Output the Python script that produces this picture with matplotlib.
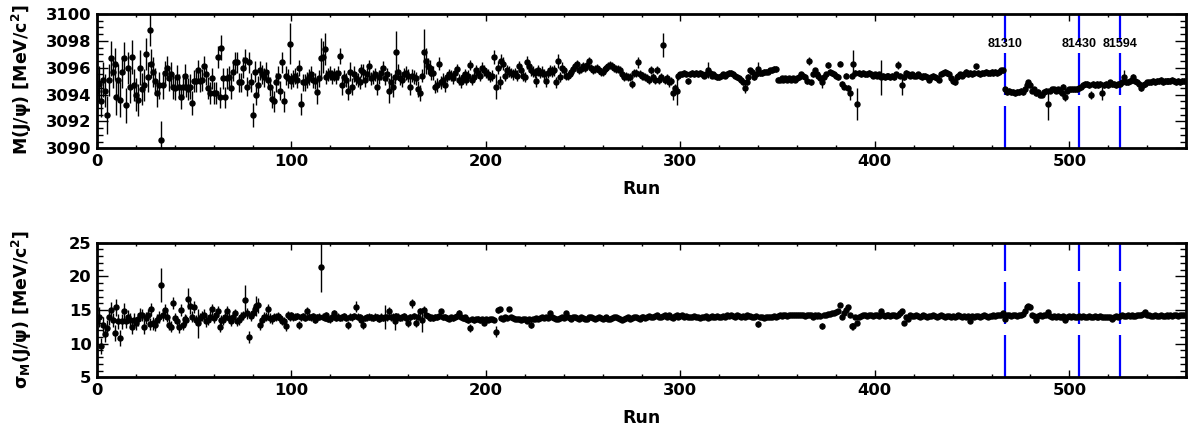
import numpy as np
import matplotlib
matplotlib.use("Agg")
import matplotlib.pyplot as plt

# J/psi mass peak position per run
mass = [
    3094.3, 3094.8, 3093.5, 3095.1, 3094.3, 3092.5, 3095.1, 3096.7, 3095.7, 3096.3, 3093.8, 3095.1, 3093.6, 3095.7, 3096.7, 3093.2, 3096.0, 3094.6, 3096.8, 3094.7,
    3094.0, 3093.6, 3096.0, 3094.4, 3094.7, 3097.0, 3095.3, 3098.8, 3096.3, 3095.7, 3095.0, 3094.1, 3094.7, 3090.6, 3094.7, 3095.6, 3096.0, 3095.2, 3095.5, 3094.6,
    3094.5, 3095.3, 3094.6, 3093.8, 3094.6, 3095.4, 3094.6, 3094.4, 3094.6, 3093.4, 3095.0, 3095.0, 3095.8, 3095.0, 3095.1, 3096.1, 3095.5, 3094.5, 3094.1, 3095.2,
    3094.1, 3094.1, 3096.8, 3093.8, 3097.5, 3095.2, 3093.8, 3095.2, 3095.3, 3094.5, 3095.7, 3096.4, 3096.4, 3094.9, 3094.9, 3096.0, 3096.6, 3094.6, 3096.4, 3094.9,
    3092.5, 3095.7, 3094.0, 3094.7, 3095.8, 3095.5, 3095.3, 3095.7, 3095.1, 3094.6, 3093.7, 3093.5, 3094.9, 3095.4, 3094.3, 3096.4, 3093.5, 3095.4, 3095.2, 3097.8,
    3095.0, 3095.2, 3095.4, 3095.1, 3096.0, 3093.3, 3094.9, 3094.9, 3095.1, 3095.3, 3095.5, 3095.1, 3095.0, 3094.2, 3095.2, 3096.7, 3096.8, 3097.4, 3095.3, 3095.5,
    3095.6, 3095.3, 3095.5, 3095.3, 3095.6, 3096.9, 3094.7, 3095.3, 3095.1, 3094.3, 3095.7, 3094.6, 3095.5, 3095.2, 3095.1, 3094.9, 3095.8, 3095.7, 3095.1, 3095.5,
    3096.1, 3095.2, 3095.3, 3095.5, 3094.6, 3095.3, 3095.6, 3096.0, 3095.2, 3095.5, 3094.3, 3094.9, 3094.6, 3095.3, 3097.2, 3095.7, 3095.2, 3095.1, 3095.5, 3095.6,
    3095.4, 3094.6, 3095.4, 3095.3, 3095.2, 3094.4, 3094.1, 3095.4, 3097.2, 3096.5, 3096.1, 3096.0, 3095.6, 3095.6, 3094.6, 3094.7, 3096.3, 3094.9, 3095.1, 3094.7,
    3095.3, 3095.5, 3095.4, 3095.2, 3095.6, 3095.9, 3095.1, 3094.9, 3095.3, 3095.5, 3095.1, 3095.4, 3096.2, 3095.1, 3095.3, 3095.8, 3095.6, 3095.4, 3096.0, 3095.8,
    3095.6, 3095.5, 3095.3, 3095.4, 3096.8, 3094.6, 3096.0, 3094.9, 3096.5, 3096.3, 3095.4, 3095.8, 3095.7, 3095.6, 3095.5, 3095.6, 3095.4, 3096.1, 3095.8, 3095.4,
    3095.3, 3096.4, 3096.1, 3095.8, 3095.7, 3095.6, 3095.0, 3095.8, 3095.6, 3095.7, 3095.5, 3095.0, 3095.6, 3095.8, 3095.7, 3095.8, 3094.9, 3096.5, 3095.3, 3096.0,
    3095.8, 3095.4, 3095.4, 3095.5, 3095.7, 3095.9, 3096.1, 3096.3, 3095.8, 3095.9, 3096.1, 3096.0, 3096.2, 3096.5, 3096.0, 3095.8, 3095.9, 3096.0, 3095.8, 3095.7,
    3095.7, 3095.9, 3096.0, 3096.1, 3096.2, 3096.1, 3096.0, 3095.9, 3095.9, 3095.8, 3095.5, 3095.3, 3095.4, 3095.3, 3095.3, 3094.8, 3095.6, 3095.6, 3096.4, 3095.5,
    3095.4, 3095.4, 3095.3, 3095.2, 3095.1, 3095.8, 3095.3, 3095.1, 3095.8, 3095.1, 3095.3, 3097.7, 3095.1, 3095.2, 3094.9, 3095.0, 3094.1, 3094.5, 3094.3, 3095.4,
    3095.5, 3095.5, 3095.6, 3095.5, 3095.0, 3095.5, 3095.6, 3095.5, 3095.6, 3095.5, 3095.6, 3095.5, 3095.4, 3095.5, 3095.8, 3095.6, 3095.4, 3095.5, 3095.4, 3095.3,
    3095.3, 3095.4, 3095.5, 3095.4, 3095.5, 3095.6, 3095.6, 3095.5, 3095.4, 3095.3, 3095.2, 3095.1, 3094.9, 3094.5, 3094.9, 3095.3, 3095.8, 3095.7, 3095.3, 3095.5,
    3095.9, 3095.6, 3095.6, 3095.7, 3095.7, 3095.7, 3095.8, 3095.8, 3095.9, 3095.9, 3095.1, 3095.1, 3095.2, 3095.1, 3095.2, 3095.1, 3095.2, 3095.1, 3095.2, 3095.1,
    3095.2, 3095.3, 3095.5, 3095.4, 3095.3, 3095.0, 3096.5, 3094.9, 3095.5, 3095.8, 3095.5, 3095.4, 3095.2, 3094.9, 3095.3, 3095.5, 3096.2, 3095.7, 3095.6, 3095.5,
    3095.4, 3095.3, 3096.3, 3094.8, 3094.6, 3095.4, 3094.5, 3094.1, 3095.4, 3096.3, 3095.6, 3093.3, 3095.6, 3095.5, 3095.6, 3095.5, 3095.5, 3095.6, 3095.5, 3095.4,
    3095.5, 3095.4, 3095.5, 3095.3, 3095.4, 3095.3, 3095.4, 3095.4, 3095.3, 3095.4, 3095.3, 3095.5, 3096.2, 3095.4, 3094.7, 3095.3, 3095.6, 3095.5, 3095.4, 3095.5,
    3095.4, 3095.4, 3095.5, 3095.4, 3095.3, 3095.4, 3095.4, 3095.3, 3095.1, 3095.3, 3095.4, 3095.3, 3095.2, 3095.1, 3095.5, 3095.6, 3095.7, 3095.6, 3095.5, 3095.2,
    3095.0, 3094.9, 3095.3, 3095.4, 3095.5, 3095.4, 3095.5, 3095.7, 3095.5, 3095.6, 3095.5, 3095.6, 3096.1, 3095.6, 3095.5, 3095.6, 3095.6, 3095.7, 3095.6, 3095.6,
    3095.7, 3095.6, 3095.7, 3095.6, 3095.7, 3095.8, 3095.8, 3094.4, 3094.2, 3094.3, 3094.2, 3094.2, 3094.1, 3094.2, 3094.2, 3094.3, 3094.2, 3094.4, 3094.7, 3094.9,
    3094.7, 3094.3, 3094.4, 3094.1, 3094.2, 3094.0, 3094.0, 3094.2, 3094.3, 3093.3, 3094.3, 3094.4, 3094.4, 3094.3, 3094.4, 3094.3, 3094.1, 3094.6, 3093.8, 3094.3,
    3094.4, 3094.4, 3094.4, 3094.4, 3094.4, 3094.5, 3094.6, 3094.7, 3094.8, 3094.8, 3094.7, 3094.0, 3094.8, 3094.7, 3094.8, 3094.7, 3094.8, 3094.1, 3094.7, 3094.8,
    3094.7, 3094.9, 3094.8, 3094.8, 3094.7, 3094.8, 3094.8, 3094.9, 3095.3, 3094.9, 3094.9, 3095.0, 3095.1, 3095.3, 3095.0, 3094.9, 3094.8, 3094.5, 3094.7, 3094.8,
    3094.9, 3094.9, 3094.9, 3095.0, 3094.9, 3095.0, 3095.0, 3095.1, 3094.9, 3095.0, 3095.0, 3095.0, 3095.0, 3095.1, 3095.0, 3094.9, 3095.0, 3094.9, 3095.0, 3095.0,
]

mass_err = [
    1.2, 1.3, 1.2, 1.3, 1.2, 1.4, 1.2, 1.3, 1.2, 1.2, 1.3, 1.2, 1.3, 1.2, 1.2, 1.3, 1.2, 1.2, 1.3, 1.2,
    1.2, 1.2, 1.3, 1.2, 1.2, 1.2, 1.1, 1.2, 1.1, 1.1, 1.0, 1.0, 1.0, 1.4, 1.0, 0.9, 0.9, 0.9, 0.9, 0.9,
    0.9, 0.9, 0.9, 0.9, 0.9, 0.9, 0.8, 0.8, 0.9, 0.9, 0.8, 0.8, 0.8, 0.8, 0.8, 0.8, 0.8, 0.8, 0.8, 0.8,
    0.8, 0.8, 0.8, 0.8, 0.9, 0.8, 0.8, 0.8, 0.8, 0.8, 0.7, 0.8, 0.8, 0.7, 0.7, 0.8, 0.8, 0.7, 0.8, 0.7,
    0.9, 0.8, 0.8, 0.7, 0.7, 0.7, 0.7, 0.7, 0.7, 0.7, 0.7, 0.8, 0.7, 0.7, 0.7, 0.8, 0.8, 0.7, 0.7, 1.5,
    0.6, 0.6, 0.6, 0.6, 0.6, 0.8, 0.6, 0.6, 0.6, 0.6, 0.6, 0.6, 0.6, 0.9, 0.6, 1.5, 1.2, 1.2, 0.5, 0.5,
    0.5, 0.5, 0.5, 0.5, 0.5, 0.6, 0.7, 0.5, 0.5, 0.7, 0.7, 0.6, 0.6, 0.5, 0.5, 0.5, 0.5, 0.6, 0.5, 0.5,
    0.5, 0.5, 0.5, 0.5, 0.6, 0.5, 0.5, 0.5, 0.5, 0.5, 0.9, 0.7, 0.8, 0.5, 1.5, 0.6, 0.5, 0.5, 0.5, 0.5,
    0.5, 0.6, 0.5, 0.5, 0.5, 0.6, 0.6, 0.5, 1.7, 1.0, 0.6, 0.6, 0.5, 0.5, 0.5, 0.5, 0.5, 0.5, 0.5, 0.5,
    0.4, 0.4, 0.4, 0.4, 0.4, 0.4, 0.4, 0.4, 0.4, 0.4, 0.4, 0.4, 0.4, 0.4, 0.4, 0.4, 0.4, 0.4, 0.4, 0.4,
    0.4, 0.4, 0.4, 0.4, 0.5, 0.9, 0.5, 0.5, 0.5, 0.5, 0.4, 0.4, 0.4, 0.4, 0.4, 0.4, 0.4, 0.4, 0.4, 0.4,
    0.4, 0.5, 0.4, 0.4, 0.4, 0.4, 0.4, 0.4, 0.4, 0.4, 0.4, 0.4, 0.4, 0.4, 0.4, 0.4, 0.4, 0.5, 0.4, 0.4,
    0.3, 0.3, 0.3, 0.3, 0.3, 0.3, 0.3, 0.3, 0.3, 0.3, 0.3, 0.3, 0.3, 0.3, 0.3, 0.3, 0.3, 0.3, 0.3, 0.3,
    0.3, 0.3, 0.3, 0.3, 0.3, 0.3, 0.3, 0.3, 0.3, 0.3, 0.3, 0.3, 0.3, 0.3, 0.3, 0.3, 0.3, 0.3, 0.4, 0.3,
    0.3, 0.3, 0.3, 0.3, 0.3, 0.3, 0.3, 0.3, 0.3, 0.3, 0.3, 0.9, 0.3, 0.3, 0.3, 0.3, 0.5, 0.3, 1.1, 0.3,
    0.2, 0.2, 0.2, 0.2, 0.2, 0.2, 0.2, 0.2, 0.2, 0.2, 0.2, 0.2, 0.2, 0.2, 0.6, 0.2, 0.2, 0.2, 0.2, 0.2,
    0.2, 0.2, 0.2, 0.2, 0.2, 0.2, 0.2, 0.2, 0.2, 0.2, 0.2, 0.2, 0.2, 0.4, 0.2, 0.2, 0.2, 0.2, 0.2, 0.2,
    0.5, 0.2, 0.2, 0.2, 0.2, 0.2, 0.2, 0.2, 0.2, 0.2, 0.2, 0.2, 0.2, 0.2, 0.2, 0.2, 0.2, 0.2, 0.2, 0.2,
    0.2, 0.2, 0.2, 0.2, 0.2, 0.2, 0.3, 0.2, 0.2, 0.2, 0.2, 0.2, 0.2, 0.4, 0.2, 0.2, 0.2, 0.2, 0.2, 0.2,
    0.2, 0.2, 0.2, 0.2, 0.2, 0.2, 0.2, 0.5, 0.2, 1.0, 0.2, 1.2, 0.2, 0.2, 0.2, 0.2, 0.2, 0.2, 0.2, 0.2,
    0.2, 0.2, 0.2, 1.3, 0.2, 0.2, 0.2, 0.2, 0.2, 0.2, 0.2, 0.2, 0.3, 0.2, 0.7, 0.2, 0.2, 0.2, 0.2, 0.2,
    0.2, 0.2, 0.2, 0.2, 0.2, 0.2, 0.2, 0.2, 0.2, 0.2, 0.2, 0.2, 0.2, 0.2, 0.2, 0.2, 0.2, 0.2, 0.2, 0.2,
    0.2, 0.2, 0.2, 0.2, 0.2, 0.2, 0.2, 0.2, 0.2, 0.2, 0.2, 0.2, 0.2, 0.2, 0.2, 0.2, 0.2, 0.2, 0.2, 0.2,
    0.2, 0.2, 0.2, 0.2, 0.2, 0.2, 0.2, 0.2, 0.2, 0.2, 0.2, 0.2, 0.2, 0.2, 0.2, 0.2, 0.2, 0.2, 0.2, 0.2,
    0.2, 0.2, 0.2, 0.2, 0.2, 0.2, 0.2, 0.2, 0.2, 1.2, 0.2, 0.2, 0.2, 0.2, 0.2, 0.2, 0.2, 0.2, 0.3, 0.2,
    0.2, 0.2, 0.2, 0.2, 0.2, 0.2, 0.2, 0.2, 0.2, 0.2, 0.2, 0.3, 0.2, 0.2, 0.2, 0.2, 0.2, 0.5, 0.2, 0.2,
    0.2, 0.2, 0.2, 0.2, 0.2, 0.2, 0.2, 0.2, 0.5, 0.2, 0.2, 0.2, 0.2, 0.2, 0.2, 0.2, 0.2, 0.2, 0.2, 0.2,
    0.2, 0.2, 0.2, 0.2, 0.2, 0.2, 0.2, 0.2, 0.2, 0.2, 0.2, 0.2, 0.2, 0.2, 0.2, 0.2, 0.2, 0.2, 0.2, 0.2,
]

# J/psi mass resolution per run
sigma = [
    13.3, 14.0, 9.7, 12.8, 11.5, 12.3, 13.9, 15.0, 13.5, 11.6, 15.4, 13.3, 10.9, 13.3, 14.9, 13.3, 14.0, 13.5, 12.5, 13.5,
    13.0, 13.6, 14.3, 14.3, 12.5, 13.8, 14.3, 12.9, 15.1, 13.0, 12.8, 13.5, 14.0, 18.7, 14.3, 15.0, 14.0, 12.8, 12.5, 16.0,
    13.8, 13.3, 12.4, 15.0, 12.8, 13.6, 13.5, 16.7, 15.6, 14.0, 15.4, 13.5, 13.0, 13.8, 14.1, 14.3, 13.3, 13.5, 14.0, 15.1,
    13.8, 14.3, 14.8, 12.5, 13.5, 13.5, 14.0, 14.8, 13.8, 13.3, 14.0, 14.5, 13.3, 13.5, 14.0, 14.2, 16.5, 14.5, 11.0, 14.1,
    14.5, 15.2, 15.6, 15.7, 12.8, 13.5, 14.0, 14.0, 15.1, 13.8, 13.6, 14.0, 14.0, 14.1, 13.8, 13.3, 13.3, 12.6, 14.3, 14.0,
    14.2, 13.9, 14.0, 14.1, 12.8, 13.9, 14.1, 13.8, 14.8, 14.0, 13.9, 14.1, 13.5, 13.9, 14.0, 21.4, 14.0, 13.8, 14.2, 13.7,
    13.6, 13.9, 14.5, 13.8, 14.0, 13.8, 13.9, 14.1, 13.8, 12.8, 14.0, 13.9, 14.1, 15.5, 14.0, 13.9, 13.5, 12.8, 13.8, 13.9,
    14.0, 13.9, 13.8, 14.0, 13.9, 13.7, 14.0, 13.8, 14.0, 13.9, 14.8, 13.9, 14.0, 13.3, 14.1, 14.0, 13.8, 13.9, 14.1, 13.8,
    13.0, 13.9, 16.0, 14.1, 13.0, 14.0, 14.8, 13.5, 15.0, 14.3, 14.1, 13.8, 13.9, 13.8, 14.0, 13.9, 14.1, 14.8, 13.9, 14.0,
    13.8, 13.7, 13.9, 13.8, 14.0, 14.1, 14.6, 14.0, 13.8, 13.9, 13.6, 13.5, 12.3, 13.6, 13.5, 13.6, 13.7, 13.5, 13.6, 13.1,
    13.6, 13.5, 13.7, 13.6, 13.5, 11.8, 15.0, 15.1, 13.8, 13.7, 13.9, 13.8, 15.2, 13.9, 13.8, 13.7, 13.6, 13.7, 13.5, 13.6,
    13.7, 13.4, 13.6, 12.8, 13.6, 13.7, 13.8, 13.7, 13.8, 13.9, 13.8, 13.9, 13.8, 14.5, 13.9, 13.8, 13.7, 13.6, 13.8, 13.9,
    13.8, 14.5, 13.9, 13.8, 13.7, 13.9, 14.0, 13.8, 13.7, 13.9, 13.8, 13.6, 13.7, 13.9, 14.0, 13.8, 13.7, 13.8, 13.9, 13.8,
    13.7, 13.8, 13.9, 13.7, 13.6, 13.8, 13.9, 14.0, 13.8, 13.6, 13.5, 13.6, 13.8, 13.9, 13.7, 13.8, 13.9, 14.0, 13.8, 13.7,
    13.9, 14.0, 13.8, 13.9, 14.1, 14.0, 13.9, 14.1, 14.2, 14.0, 13.9, 14.1, 14.2, 14.0, 14.3, 14.0, 13.8, 14.1, 14.2, 14.0,
    14.1, 14.2, 14.0, 14.1, 14.0, 13.9, 14.0, 14.1, 13.9, 14.0, 13.8, 14.0, 13.9, 14.1, 13.8, 14.0, 14.1, 14.0, 14.0, 14.1,
    14.0, 14.0, 14.1, 14.0, 14.2, 14.1, 14.2, 14.1, 14.0, 14.2, 14.1, 14.0, 14.1, 14.0, 14.2, 14.1, 14.1, 14.0, 14.0, 14.1,
    12.9, 14.0, 13.9, 13.8, 13.9, 14.0, 13.9, 14.0, 14.1, 14.0, 14.1, 14.2, 14.1, 14.2, 14.2, 14.1, 14.2, 14.3, 14.2, 14.3,
    14.2, 14.3, 14.2, 14.3, 14.1, 14.3, 14.2, 14.3, 14.0, 14.2, 14.1, 14.3, 14.1, 12.6, 14.2, 14.3, 14.4, 14.4, 14.5, 14.6,
    14.7, 14.8, 15.7, 14.0, 14.6, 15.0, 15.4, 14.2, 12.6, 12.6, 13.9, 13.1, 14.0, 14.1, 14.2, 14.2, 14.1, 14.2, 14.2, 14.1,
    14.2, 14.2, 14.1, 14.9, 14.2, 14.1, 14.2, 14.2, 14.1, 14.2, 14.2, 14.1, 14.3, 14.6, 14.8, 13.1, 14.0, 13.7, 14.2, 14.1,
    14.1, 14.2, 14.1, 14.0, 14.1, 14.2, 14.1, 14.0, 14.1, 14.1, 14.2, 14.1, 14.0, 14.1, 14.2, 14.1, 14.0, 14.1, 14.1, 14.0,
    14.1, 14.0, 14.1, 14.2, 14.1, 14.0, 14.1, 14.0, 14.1, 13.3, 14.1, 14.0, 14.1, 14.1, 14.0, 14.1, 14.2, 14.1, 14.0, 14.1,
    14.1, 14.2, 14.1, 14.2, 14.3, 14.2, 14.5, 13.7, 14.2, 14.2, 14.1, 14.2, 14.2, 14.1, 14.3, 14.3, 14.4, 14.8, 15.5, 15.6,
    15.4, 14.2, 14.1, 13.5, 14.1, 14.2, 14.1, 14.2, 14.2, 14.7, 14.1, 14.0, 14.1, 14.0, 14.1, 14.0, 14.0, 14.1, 13.5, 14.0,
    14.1, 14.0, 14.1, 14.0, 14.0, 14.1, 14.0, 14.1, 14.0, 14.0, 14.1, 14.0, 14.0, 14.1, 14.0, 14.0, 14.1, 14.0, 13.9, 14.0,
    14.0, 13.9, 13.7, 14.0, 14.1, 14.0, 14.1, 14.2, 14.1, 14.1, 14.2, 14.1, 14.2, 14.1, 14.1, 14.2, 14.2, 14.3, 14.4, 14.7,
    14.3, 14.2, 14.1, 14.1, 14.2, 14.1, 14.1, 14.2, 14.1, 14.1, 14.2, 14.1, 14.2, 14.1, 14.2, 14.2, 14.1, 14.2, 14.2, 14.2,
]

sigma_err = [
    1.3, 1.5, 1.2, 1.1, 1.2, 1.2, 1.1, 1.2, 1.1, 1.2, 1.3, 1.1, 1.2, 1.1, 1.2, 1.0, 1.0, 1.0, 1.0, 1.0,
    1.0, 1.0, 1.0, 0.9, 1.0, 0.9, 0.9, 0.9, 1.0, 0.9, 0.9, 0.9, 0.9, 2.5, 0.9, 0.9, 0.8, 0.8, 0.8, 0.9,
    0.8, 0.8, 0.8, 0.9, 0.8, 0.8, 0.8, 1.6, 1.2, 0.8, 0.9, 0.8, 2.1, 0.8, 0.8, 0.8, 0.8, 0.8, 0.8, 0.8,
    0.7, 0.7, 0.8, 0.8, 0.7, 0.7, 0.7, 0.8, 0.7, 0.7, 0.7, 0.7, 0.7, 0.7, 0.7, 0.7, 2.2, 0.8, 0.9, 0.7,
    0.7, 0.8, 1.5, 1.1, 0.8, 0.7, 0.7, 0.7, 0.8, 0.7, 0.7, 0.6, 0.6, 0.6, 0.6, 0.6, 0.6, 0.7, 0.6, 0.6,
    0.5, 0.5, 0.5, 0.5, 0.6, 0.5, 0.5, 0.5, 0.6, 0.5, 0.5, 0.5, 0.5, 0.5, 0.5, 3.7, 0.5, 0.5, 0.5, 0.5,
    0.5, 0.5, 0.5, 0.5, 0.5, 0.5, 0.5, 0.5, 0.5, 0.6, 0.5, 0.5, 0.5, 0.8, 0.5, 0.5, 0.5, 0.6, 0.5, 0.5,
    0.5, 0.5, 0.5, 0.5, 0.5, 0.5, 0.5, 0.5, 1.8, 0.5, 0.6, 0.5, 0.5, 1.2, 0.5, 0.5, 0.5, 0.5, 0.5, 0.5,
    0.6, 0.5, 0.7, 0.5, 0.6, 0.5, 0.5, 1.7, 0.6, 0.5, 0.4, 0.4, 0.4, 0.4, 0.4, 0.4, 0.4, 0.4, 0.4, 0.4,
    0.4, 0.4, 0.4, 0.4, 0.4, 0.4, 0.4, 0.4, 0.4, 0.4, 0.4, 0.4, 0.6, 0.4, 0.4, 0.4, 0.4, 0.4, 0.4, 0.4,
    0.3, 0.3, 0.3, 0.3, 0.3, 0.8, 0.5, 0.4, 0.3, 0.3, 0.3, 0.3, 0.3, 0.3, 0.3, 0.3, 0.3, 0.3, 0.3, 0.3,
    0.3, 0.3, 0.3, 0.5, 0.3, 0.3, 0.3, 0.3, 0.3, 0.3, 0.3, 0.3, 0.3, 0.3, 0.3, 0.3, 0.3, 0.3, 0.3, 0.3,
    0.2, 0.3, 0.2, 0.2, 0.2, 0.2, 0.2, 0.2, 0.2, 0.2, 0.2, 0.2, 0.2, 0.2, 0.2, 0.2, 0.2, 0.2, 0.2, 0.2,
    0.2, 0.2, 0.2, 0.2, 0.2, 0.2, 0.2, 0.2, 0.2, 0.2, 0.2, 0.2, 0.2, 0.2, 0.2, 0.2, 0.2, 0.2, 0.2, 0.2,
    0.2, 0.2, 0.2, 0.2, 0.2, 0.2, 0.2, 0.2, 0.2, 0.2, 0.2, 0.2, 0.2, 0.2, 0.2, 0.2, 0.2, 0.2, 0.2, 0.2,
    0.2, 0.2, 0.2, 0.2, 0.2, 0.2, 0.2, 0.2, 0.2, 0.2, 0.2, 0.2, 0.2, 0.2, 0.2, 0.2, 0.2, 0.2, 0.2, 0.2,
    0.2, 0.2, 0.2, 0.2, 0.2, 0.2, 0.2, 0.2, 0.2, 0.2, 0.2, 0.2, 0.2, 0.2, 0.2, 0.2, 0.2, 0.2, 0.2, 0.2,
    0.4, 0.2, 0.2, 0.2, 0.2, 0.2, 0.2, 0.2, 0.2, 0.2, 0.2, 0.2, 0.2, 0.2, 0.2, 0.2, 0.2, 0.2, 0.2, 0.2,
    0.2, 0.2, 0.2, 0.2, 0.2, 0.2, 0.2, 0.2, 0.2, 0.2, 0.2, 0.2, 0.2, 0.4, 0.2, 0.2, 0.2, 0.2, 0.2, 0.2,
    0.2, 0.2, 0.3, 0.2, 0.2, 0.3, 0.3, 0.2, 0.5, 0.5, 0.2, 0.4, 0.2, 0.2, 0.2, 0.2, 0.2, 0.2, 0.2, 0.2,
    0.2, 0.2, 0.2, 0.3, 0.2, 0.2, 0.2, 0.2, 0.2, 0.2, 0.2, 0.2, 0.2, 0.2, 0.3, 0.3, 0.2, 0.2, 0.2, 0.2,
    0.2, 0.2, 0.2, 0.2, 0.2, 0.2, 0.2, 0.2, 0.2, 0.2, 0.2, 0.2, 0.2, 0.2, 0.2, 0.2, 0.2, 0.2, 0.2, 0.2,
    0.2, 0.2, 0.2, 0.2, 0.2, 0.2, 0.2, 0.2, 0.2, 0.2, 0.2, 0.2, 0.2, 0.2, 0.2, 0.2, 0.2, 0.2, 0.2, 0.2,
    0.2, 0.2, 0.2, 0.2, 0.2, 0.2, 0.2, 0.2, 0.2, 0.2, 0.2, 0.2, 0.2, 0.2, 0.2, 0.2, 0.2, 0.2, 0.2, 0.2,
    0.2, 0.2, 0.2, 0.2, 0.2, 0.2, 0.2, 0.2, 0.2, 0.3, 0.2, 0.2, 0.2, 0.2, 0.2, 0.2, 0.2, 0.2, 0.2, 0.2,
    0.2, 0.2, 0.2, 0.2, 0.2, 0.2, 0.2, 0.2, 0.2, 0.2, 0.2, 0.2, 0.2, 0.2, 0.2, 0.2, 0.2, 0.2, 0.2, 0.2,
    0.2, 0.2, 0.2, 0.2, 0.2, 0.2, 0.2, 0.2, 0.2, 0.2, 0.2, 0.2, 0.2, 0.2, 0.2, 0.2, 0.2, 0.2, 0.2, 0.2,
    0.2, 0.2, 0.2, 0.2, 0.2, 0.2, 0.2, 0.2, 0.2, 0.2, 0.2, 0.2, 0.2, 0.2, 0.2, 0.2, 0.2, 0.2, 0.2, 0.2,
]

# run-period boundaries
boundary_runs = [467, 505, 526]
boundary_labels = ["81310", "81430", "81594"]

runs = np.arange(len(mass))

plt.rcParams['font.family'] = ['DejaVu Sans']
plt.rcParams['font.weight'] = 'bold'
plt.rcParams['mathtext.fontset'] = 'custom'
plt.rcParams['mathtext.rm'] = 'DejaVu Sans:bold'
plt.rcParams['mathtext.it'] = 'DejaVu Sans:bold'
plt.rcParams['mathtext.bf'] = 'DejaVu Sans:bold'
plt.rcParams['lines.scale_dashes'] = False

W, H = 1200, 437
fig = plt.figure(figsize=(W / 100, H / 100), dpi=100)


def px_axes(left, top, right, bottom):
    return fig.add_axes([left / W, 1 - bottom / H, (right - left) / W, (bottom - top) / H])


ax1 = px_axes(97, 14, 1186, 148.3)
ax2 = px_axes(97, 242.7, 1186, 377.3)


def style_axis(ax, ylo, yhi, ymajor, yminor):
    ax.set_xlim(0, 560)
    ax.set_ylim(ylo, yhi)
    ax.set_xticks(np.arange(0, 561, 100))
    ax.set_xticks(np.arange(0, 561, 20), minor=True)
    ax.set_yticks(np.arange(ylo, yhi + 0.01, ymajor))
    ax.set_yticks(np.arange(ylo, yhi + 0.01, yminor), minor=True)
    ax.tick_params(axis='both', which='both', direction='in', top=True, right=True,
                   labelsize=11.8, width=1.0)
    ax.tick_params(axis='x', which='major', length=5, pad=4)
    ax.tick_params(axis='x', which='minor', length=2.5)
    ax.tick_params(axis='y', which='major', length=8, pad=4)
    ax.tick_params(axis='y', which='minor', length=4)
    for sp in ax.spines.values():
        sp.set_linewidth(2.0)
    ax.set_xlabel('Run', fontsize=12.5, fontweight='bold', labelpad=8)


def draw_boundaries(ax, ylo, yhi):
    for r in boundary_runs:
        ax.plot([r, r], [ylo, yhi], color='#0000ff', lw=1.6,
                dashes=(42 * 0.72, 11 * 0.72), zorder=1, clip_on=False)


# mass panel
ax1.errorbar(runs, mass, yerr=mass_err, fmt='o', color='black', ms=3.6,
             elinewidth=1.0, capsize=0, zorder=3)
style_axis(ax1, 3090, 3100, 2, 0.5)
draw_boundaries(ax1, 3090, 3100)
for r, lab in zip(boundary_runs, boundary_labels):
    ax1.text(r, 3097.8, lab, ha='center', va='center', fontsize=9, fontweight='bold',
             family=['Liberation Sans', 'DejaVu Sans'])
ax1.set_yticklabels([str(v) for v in range(3090, 3101, 2)])

# resolution panel
ax2.errorbar(runs, sigma, yerr=sigma_err, fmt='o', color='black', ms=3.6,
             elinewidth=1.0, capsize=0, zorder=3)
style_axis(ax2, 5, 25, 5, 1)
draw_boundaries(ax2, 5, 25)
ax2.set_yticklabels([str(v) for v in range(5, 26, 5)])

fig.text(22 / W, 1 - 80 / H, r'M(J/$\psi$) [MeV/c$^{2}$]', rotation=90,
         ha='center', va='center', fontsize=12.5, fontweight='bold')
fig.text(22 / W, 1 - 309 / H, r'$\sigma_{M}$(J/$\psi$) [MeV/c$^{2}$]', rotation=90,
         ha='center', va='center', fontsize=12.5, fontweight='bold')

fig.savefig('out.png', dpi=100)
